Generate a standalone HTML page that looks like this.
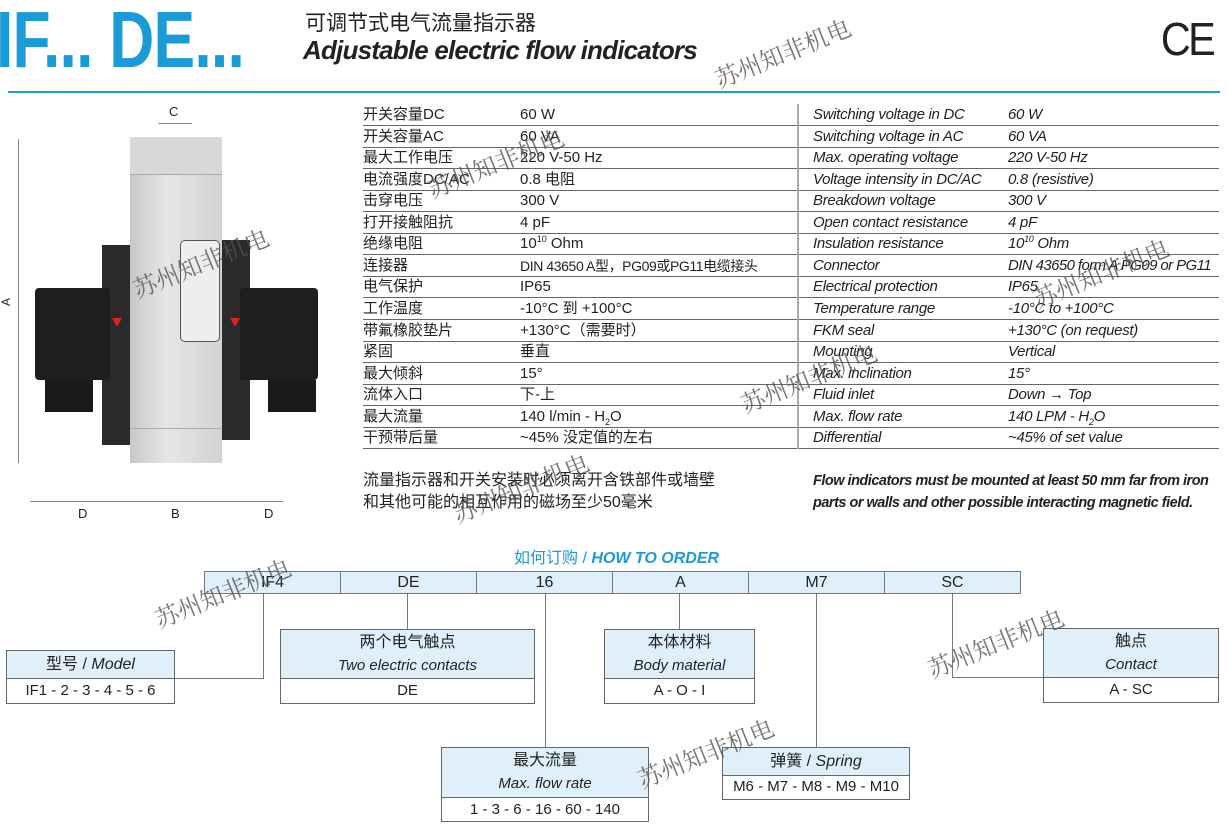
<!DOCTYPE html>
<html><head><meta charset="utf-8"><style>
*{margin:0;padding:0;box-sizing:border-box}
body{width:1229px;height:827px;background:#fff;position:relative;overflow:hidden;font-family:"Liberation Sans","Noto Sans CJK SC",sans-serif;color:#222}
.a{position:absolute}
.title{left:-4px;top:-6px;font-size:80px;font-weight:bold;color:#1b9ad8;transform:scaleX(.78);transform-origin:left top;letter-spacing:-1px}
table{border-collapse:collapse;table-layout:fixed}
.tb td{height:21.56px;font-size:15px;line-height:20px;border-bottom:1px solid #666;padding:0;white-space:nowrap;vertical-align:bottom;overflow:hidden}
.tb sup,.tb sub{font-size:9px;line-height:0}
.en td{font-style:italic;font-size:15px;letter-spacing:-.3px}
.bx{position:absolute;border:1.5px solid #666;background:#fff;text-align:center}
.bx .h{background:#dff0fb;border-bottom:1.5px solid #666}
.ln{position:absolute;background:#777}
.wm{position:absolute;font-size:24px;color:#555;transform:rotate(-22deg);transform-origin:left bottom;font-family:"Noto Serif CJK SC",serif;opacity:.8;white-space:nowrap}
.cell{position:absolute;top:571px;height:23px;border:1px solid #777;background:#dff0fb;text-align:center;font-size:16px;line-height:21px}
</style></head><body>
<div class="a title">IF... DE...</div>
<div class="a" style="left:305px;top:7px;font-size:21px">可调节式电气流量指示器</div>
<div class="a" style="left:303px;top:35px;font-size:26px;font-weight:bold;font-style:italic;letter-spacing:-.8px">Adjustable electric flow indicators</div>
<div class="a" style="left:1158px;top:12px;font-size:46px;letter-spacing:-3px;transform:scaleX(.9)">CE</div>
<div class="a" style="left:8px;top:91px;width:1212px;height:2px;background:#1b9ad8"></div>

<!-- device -->
<div class="a" style="left:18px;top:139px;width:1px;height:324px;background:#888"></div>
<div class="a" style="left:2px;top:295px;font-size:12px;transform:rotate(-90deg)">A</div>
<div class="a" style="left:158px;top:123px;width:34px;height:1px;background:#888"></div>
<div class="a" style="left:169px;top:104px;font-size:13px">C</div>
<div class="a" style="left:30px;top:501px;width:253px;height:1px;background:#888"></div>
<div class="a" style="left:78px;top:506px;font-size:13px">D</div>
<div class="a" style="left:171px;top:506px;font-size:13px">B</div>
<div class="a" style="left:264px;top:506px;font-size:13px">D</div>
<div class="a" style="left:130px;top:137px;width:92px;height:326px;background:linear-gradient(90deg,#c8c8c8,#e6e6e6 40%,#d2d2d2)"></div>
<div class="a" style="left:130px;top:137px;width:92px;height:38px;background:#d8d8d8;border-bottom:1px solid #aaa"></div>
<div class="a" style="left:130px;top:428px;width:92px;height:1px;background:#aaa"></div>
<div class="a" style="left:180px;top:240px;width:40px;height:102px;border:1px solid #555;border-radius:5px;background:#eee"></div>
<div class="a" style="left:102px;top:245px;width:28px;height:200px;background:#2a2a2a"></div>
<div class="a" style="left:35px;top:288px;width:75px;height:92px;background:#1e1e1e;border-radius:4px"></div>
<div class="a" style="left:45px;top:380px;width:48px;height:32px;background:#1a1a1a"></div>
<div class="a" style="left:222px;top:240px;width:28px;height:200px;background:#2a2a2a"></div>
<div class="a" style="left:240px;top:288px;width:78px;height:92px;background:#1e1e1e;border-radius:4px"></div>
<div class="a" style="left:268px;top:380px;width:48px;height:32px;background:#1a1a1a"></div>
<div class="a" style="left:112px;top:318px;width:0;height:0;border-left:5px solid transparent;border-right:5px solid transparent;border-top:9px solid #d22"></div>
<div class="a" style="left:230px;top:318px;width:0;height:0;border-left:5px solid transparent;border-right:5px solid transparent;border-top:9px solid #d22"></div>

<!-- tables -->
<table class="a tb" style="left:363px;top:104px;width:435px">
<col style="width:157px"><col>
<tr><td>开关容量DC</td><td>60 W</td></tr>
<tr><td>开关容量AC</td><td>60 VA</td></tr>
<tr><td>最大工作电压</td><td>220 V-50 Hz</td></tr>
<tr><td>电流强度DC/AC</td><td>0.8 电阻</td></tr>
<tr><td>击穿电压</td><td>300 V</td></tr>
<tr><td>打开接触阻抗</td><td>4 pF</td></tr>
<tr><td>绝缘电阻</td><td>10<sup>10</sup> Ohm</td></tr>
<tr><td>连接器</td><td style="font-size:14px;letter-spacing:-.4px">DIN 43650 A型，PG09或PG11电缆接头</td></tr>
<tr><td>电气保护</td><td>IP65</td></tr>
<tr><td>工作温度</td><td>-10°C 到 +100°C</td></tr>
<tr><td>带氟橡胶垫片</td><td>+130°C（需要时）</td></tr>
<tr><td>紧固</td><td>垂直</td></tr>
<tr><td>最大倾斜</td><td>15°</td></tr>
<tr><td>流体入口</td><td>下-上</td></tr>
<tr><td>最大流量</td><td>140 l/min - H<sub>2</sub>O</td></tr>
<tr><td>干预带后量</td><td>~45% 没定值的左右</td></tr>
</table>
<div class="a" style="left:797px;top:104px;width:2px;height:345px;background:#aaa"></div>
<table class="a tb en" style="left:799px;top:104px;width:420px">
<col style="width:209px"><col>
<tr><td style="padding-left:14px">Switching voltage in DC</td><td>60 W</td></tr>
<tr><td style="padding-left:14px">Switching voltage in AC</td><td>60 VA</td></tr>
<tr><td style="padding-left:14px">Max. operating voltage</td><td>220 V-50 Hz</td></tr>
<tr><td style="padding-left:14px">Voltage intensity in DC/AC</td><td>0.8 (resistive)</td></tr>
<tr><td style="padding-left:14px">Breakdown voltage</td><td>300 V</td></tr>
<tr><td style="padding-left:14px">Open contact resistance</td><td>4 pF</td></tr>
<tr><td style="padding-left:14px">Insulation resistance</td><td>10<sup>10</sup> Ohm</td></tr>
<tr><td style="padding-left:14px">Connector</td><td style="letter-spacing:-.6px">DIN 43650 form A PG09 or PG11</td></tr>
<tr><td style="padding-left:14px">Electrical protection</td><td>IP65</td></tr>
<tr><td style="padding-left:14px">Temperature range</td><td>-10°C to +100°C</td></tr>
<tr><td style="padding-left:14px">FKM seal</td><td>+130°C (on request)</td></tr>
<tr><td style="padding-left:14px">Mounting</td><td>Vertical</td></tr>
<tr><td style="padding-left:14px">Max. inclination</td><td>15°</td></tr>
<tr><td style="padding-left:14px">Fluid inlet</td><td>Down → Top</td></tr>
<tr><td style="padding-left:14px">Max. flow rate</td><td>140 LPM - H<sub>2</sub>O</td></tr>
<tr><td style="padding-left:14px">Differential</td><td>~45% of set value</td></tr>
</table>
<div class="a" style="left:363px;top:470px;font-size:16px;line-height:22px">流量指示器和开关安装时必须离开含铁部件或墙壁<br>和其他可能的相互作用的磁场至少50毫米</div>
<div class="a" style="left:813px;top:470px;font-size:14.5px;line-height:22px;font-weight:bold;font-style:italic;letter-spacing:-.5px">Flow indicators must be mounted at least 50 mm far from iron<br>parts or walls and other possible interacting magnetic field.</div>

<!-- order -->
<div class="a" style="left:514px;top:544px;font-size:16px;color:#1b9ad8">如何订购 / <b><i>HOW TO ORDER</i></b></div>
<div class="cell" style="left:204px;width:137px">IF4</div>
<div class="cell" style="left:340px;width:137px">DE</div>
<div class="cell" style="left:476px;width:137px">16</div>
<div class="cell" style="left:612px;width:137px">A</div>
<div class="cell" style="left:748px;width:137px">M7</div>
<div class="cell" style="left:884px;width:137px">SC</div>
<div class="ln" style="left:263px;top:594px;width:1px;height:84px"></div>
<div class="ln" style="left:175px;top:678px;width:89px;height:1px"></div>
<div class="ln" style="left:407px;top:594px;width:1px;height:35px"></div>
<div class="ln" style="left:545px;top:594px;width:1px;height:153px"></div>
<div class="ln" style="left:679px;top:594px;width:1px;height:35px"></div>
<div class="ln" style="left:816px;top:594px;width:1px;height:153px"></div>
<div class="ln" style="left:952px;top:594px;width:1px;height:84px"></div>
<div class="ln" style="left:952px;top:677px;width:91px;height:1px"></div>

<div class="bx" style="left:6px;top:650px;width:169px;height:54px"><div class="h" style="height:28px;font-size:16px;line-height:27px">型号 / <i>Model</i></div><div style="font-size:15px;line-height:23px">IF1 - 2 - 3 - 4 - 5 - 6</div></div>
<div class="bx" style="left:280px;top:629px;width:255px;height:75px"><div class="h" style="height:49px;font-size:16px;line-height:23px;padding-top:1px">两个电气触点<br><i style="font-size:15px">Two electric contacts</i></div><div style="font-size:15px;line-height:23px">DE</div></div>
<div class="bx" style="left:604px;top:629px;width:151px;height:75px"><div class="h" style="height:49px;font-size:16px;line-height:23px;padding-top:1px">本体材料<br><i style="font-size:15px">Body material</i></div><div style="font-size:15px;line-height:23px">A - O - I</div></div>
<div class="bx" style="left:1043px;top:628px;width:176px;height:75px"><div class="h" style="height:49px;font-size:16px;line-height:23px;padding-top:1px">触点<br><i style="font-size:15px">Contact</i></div><div style="font-size:15px;line-height:23px">A - SC</div></div>
<div class="bx" style="left:441px;top:747px;width:208px;height:75px"><div class="h" style="height:50px;font-size:16px;line-height:23px;padding-top:1px">最大流量<br><i style="font-size:15px">Max. flow rate</i></div><div style="font-size:15px;line-height:23px">1 - 3 - 6 - 16 - 60 - 140</div></div>
<div class="bx" style="left:722px;top:747px;width:188px;height:53px"><div class="h" style="height:28px;font-size:16px;line-height:27px">弹簧 / <i>Spring</i></div><div style="font-size:15px;line-height:22px">M6 - M7 - M8 - M9 - M10</div></div>

<!-- watermarks -->
<div class="wm" style="left:722px;top:60px">苏州知非机电</div>
<div class="wm" style="left:435px;top:170px">苏州知非机电</div>
<div class="wm" style="left:140px;top:270px">苏州知非机电</div>
<div class="wm" style="left:1040px;top:280px">苏州知非机电</div>
<div class="wm" style="left:748px;top:385px">苏州知非机电</div>
<div class="wm" style="left:460px;top:495px">苏州知非机电</div>
<div class="wm" style="left:162px;top:600px">苏州知非机电</div>
<div class="wm" style="left:935px;top:650px">苏州知非机电</div>
<div class="wm" style="left:645px;top:760px">苏州知非机电</div>
</body></html>
